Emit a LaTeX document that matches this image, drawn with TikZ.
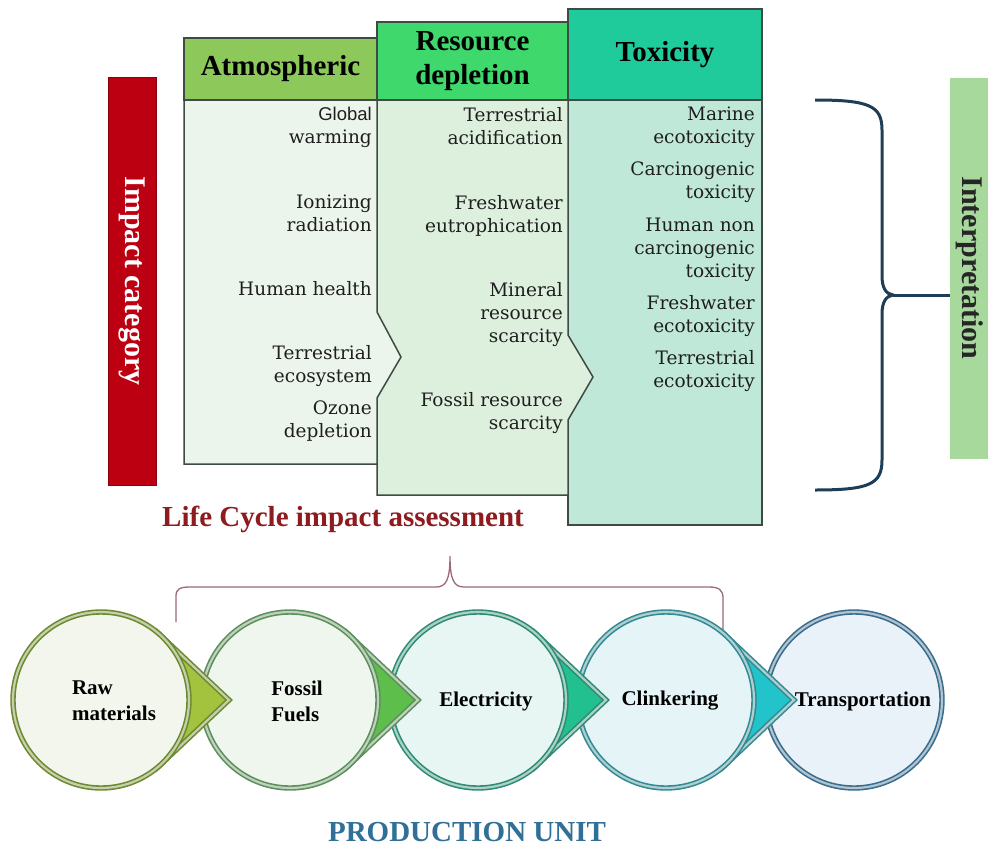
\documentclass[tikz,border=0pt]{standalone}
\usepackage{fontspec}
\setmainfont{Liberation Serif}
\newfontfamily\slabfont{DejaVu Serif}
\newfontfamily\arialfont{Liberation Sans}
\usepackage{xcolor}
\usepackage{tikz}

\definecolor{catred}{HTML}{BC0012}
\definecolor{atmohead}{HTML}{8CC85A}
\definecolor{reshead}{HTML}{3ED86C}
\definecolor{toxhead}{HTML}{1FCB9B}
\definecolor{atmobody}{HTML}{ECF5EB}
\definecolor{resbody}{HTML}{DDF0DE}
\definecolor{toxbody}{HTML}{C0E8D9}
\definecolor{boxline}{HTML}{3F4A42}
\definecolor{entrygrey}{HTML}{1E1E1E}
\definecolor{bracenavy}{HTML}{1E3D56}
\definecolor{interpgreen}{HTML}{A8D99C}
\definecolor{lcared}{HTML}{8E1B1E}
\definecolor{bracemauve}{HTML}{9A6A78}
\definecolor{produnit}{HTML}{2F6F98}
\definecolor{rawrim}{HTML}{6E8A30}
\definecolor{rawtip}{HTML}{A3C23E}
\definecolor{rawbg}{HTML}{F3F6EC}
\definecolor{fossrim}{HTML}{5C8F5B}
\definecolor{fosstip}{HTML}{5DBE4C}
\definecolor{fossbg}{HTML}{EFF6EE}
\definecolor{elecrim}{HTML}{2F8C74}
\definecolor{electip}{HTML}{22C08E}
\definecolor{elecbg}{HTML}{E7F6F3}
\definecolor{clinkrim}{HTML}{348A92}
\definecolor{clinktip}{HTML}{22C3CB}
\definecolor{clinkbg}{HTML}{E5F4F7}
\definecolor{transrim}{HTML}{3A6C8C}
\definecolor{transbg}{HTML}{E9F1F9}

\begin{document}
\begin{tikzpicture}[x=1pt,y=-1pt,
	every node/.style={inner sep=0pt},
	colhead/.style={draw=boxline, line width=1.5pt, align=center,
		font=\fontsize{29}{34}\selectfont\bfseries},
	colbody/.style={draw=boxline, line width=1.5pt},
	entry/.style={anchor=north east, align=right, text=entrygrey,
		font=\slabfont\fontsize{18.5}{23}\selectfont},
	sidebar/.style={rotate=-90, font=\fontsize{30}{34}\selectfont\bfseries},
	ring/.style={circle, minimum size=176pt, line width=1.6pt, double distance=2.2pt},
	unitlabel/.style={align=left, font=\fontsize{21}{26}\selectfont\bfseries}]
	\fill[white] (0,0) rectangle (988,849);
	\useasboundingbox (0,0) rectangle (988,849);
	
	% side bars
	\node[sidebar, fill=catred, draw=catred!75!black, text=white,
		minimum width=408pt, minimum height=48pt] (catbar) at (132,281) {Impact category};
	\node[sidebar, fill=interpgreen, text=black!85,
		minimum width=381pt, minimum height=40pt] (interp) at (970,268) {Interpretation};
	
	% columns, right to left so the notches sit on top
	\filldraw[colbody, fill=toxbody] (568,100) -- (762,100) -- (762,525) -- (568,525) -- cycle;
	\node[colhead, fill=toxhead, minimum width=194pt, minimum height=91pt] (toxhead) at (665,54.5) {Toxicity};
	\filldraw[colbody, fill=resbody] (377,100) -- (568,100) -- (568,335) -- (593,377)
		-- (568,420) -- (568,495) -- (377,495) -- cycle;
	\node[colhead, fill=reshead, minimum width=191pt, minimum height=78pt] (reshead) at (472.5,61) {Resource\\depletion};
	\filldraw[colbody, fill=atmobody] (184,100) -- (377,100) -- (377,312) -- (401,357)
		-- (377,398) -- (377,464) -- (184,464) -- cycle;
	\node[colhead, fill=atmohead, minimum width=193pt, minimum height=62pt] (atmohead) at (280.5,69) {Atmospheric};
	
	% impact categories
	\node[entry] (atm1) at (372,107) {{\arialfont Global}\\warming};
	\node[entry] (atm2) at (372,195) {Ionizing\\radiation};
	\node[entry] (atm3) at (372,281) {Human health};
	\node[entry] (atm4) at (372,345) {Terrestrial\\ecosystem};
	\node[entry] (atm5) at (372,401) {Ozone\\depletion};
	\node[entry] (res1) at (563,107) {Terrestrial\\acidification};
	\node[entry] (res2) at (563,195) {Freshwater\\eutrophication};
	\node[entry] (res3) at (563,282) {Mineral\\resource\\scarcity};
	\node[entry] (res4) at (563,392) {Fossil resource\\scarcity};
	\node[entry] (tox1) at (755,107) {Marine\\ecotoxicity};
	\node[entry] (tox2) at (755,162) {Carcinogenic\\toxicity};
	\node[entry] (tox3) at (755,218) {Human non\\carcinogenic\\toxicity};
	\node[entry] (tox4) at (755,295) {Freshwater\\ecotoxicity};
	\node[entry] (tox5) at (755,350) {Terrestrial\\ecotoxicity};
	
	% brace towards interpretation
	\coordinate (bracetop) at (815,100);
	\coordinate (bracebot) at (815,490);
	\coordinate (bracetip) at (893,295);
	\draw[bracenavy, line width=3pt]
		(bracetop) .. controls (870,100) and (882,106) .. (882,130) -- (882,276)
		.. controls (882,288) and (886,294) .. (bracetip)
		.. controls (886,296) and (882,302) .. (882,314) -- (882,460)
		.. controls (882,484) and (870,490) .. (bracebot);
	\draw[bracenavy, line width=3pt] (bracetip) -- (bracetip -| interp.south);
	
	% life cycle impact assessment
	\node[text=lcared, font=\fontsize{29}{34}\selectfont\bfseries] (lca) at (343,519) {Life Cycle impact assessment};
	\coordinate (lcatip) at (450,556);
	\coordinate (lcaleft) at (176,622);
	\coordinate (lcaright) at (723,632);
	\draw[bracemauve, line width=1.3pt]
		(lcaleft) -- (176,596) .. controls (176,589) and (180,587) .. (190,587) -- (436,587)
		.. controls (446,587) and (450,580) .. (lcatip)
		.. controls (450,580) and (454,587) .. (464,587) -- (709,587)
		.. controls (719,587) and (723,590) .. (723,598) -- (lcaright);
	
	% production chain, drawn right to left
	\foreach \cx/\rim/\tipc/\bg/\tx/\txt [count=\n] in {
		854/transrim/transrim/transbg/863/{Transportation},
		666/clinkrim/clinktip/clinkbg/670/{Clinkering},
		478/elecrim/electip/elecbg/486/{Electricity},
		290/fossrim/fosstip/fossbg/297/{Fossil\\Fuels},
		101/rawrim/rawtip/rawbg/114/{Raw\\materials}}{
		\ifnum\n>1
			\filldraw[fill=\tipc, draw=\rim, line width=1.6pt, double=\rim!40!white, double distance=2.2pt, line join=miter]
				(\cx+58,634) -- (\cx+128,700) -- (\cx+58,766) -- cycle;
		\fi
		\node[ring, fill=\bg, draw=\rim, double=\rim!40!white] (ring\n) at (\cx,700) {};
		\node[unitlabel] (unit\n) at (\tx,701) {\txt};
	}
	
	\node[text=produnit, font=\fontsize{29}{32}\selectfont\bfseries] (prod) at (467,832) {PRODUCTION UNIT};
\end{tikzpicture}
\end{document}
